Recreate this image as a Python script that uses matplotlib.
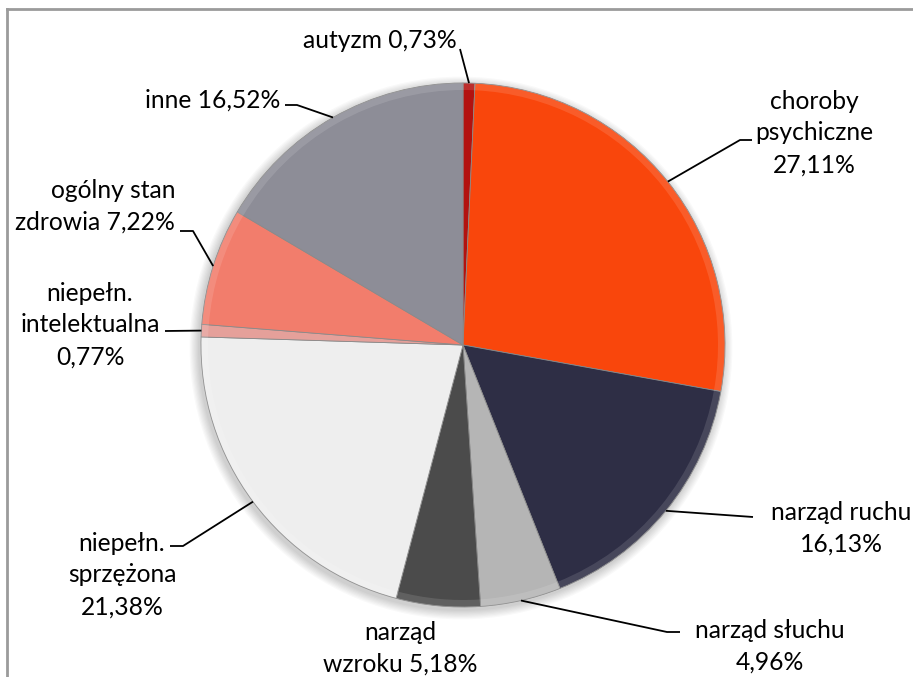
import matplotlib
matplotlib.use('Agg')
import matplotlib.pyplot as plt
from matplotlib.patches import Circle, Wedge
import numpy as np

# data
categories = ['autyzm', 'choroby\npsychiczne', 'narząd ruchu', 'narząd słuchu', 'narząd\nwzroku',
              'niepełn.\nsprzężona', 'niepełn.\nintelektualna', 'ogólny stan\nzdrowia', 'inne']
values = [0.73, 27.11, 16.13, 4.96, 5.18, 21.38, 0.77, 7.22, 16.52]
colors = ['#B3120F', '#F9460C', '#2E2E45', '#B5B5B5', '#4B4B4B',
          '#EEEEEE', '#E5A09A', '#F27D6C', '#8D8D97']

# layout (pixels, y from top)
W, H = 913, 677
cx, cy, R = 463, 345, 262
sep = [' ', '\n', '\n', '\n', ' ', '\n', '\n', ' ', ' ']
label_pos = [(380, 41), (814, 133), (841, 528), (770, 646), (400, 648),
             (122, 575), (90, 325), (175, 206), (213, 100)]
label_ha = ['center'] * 7 + ['right', 'center']
leaders = [[(460, 49)], [(740, 140), (752, 140)], [(753, 517)], [(667, 632), (680, 632)], None,
           [(183, 546), (170, 546)], [(165, 331)], [(193, 231), (180, 231)], [(297, 105), (285, 105)]]

plt.rcParams['font.family'] = ['Lato', 'DejaVu Sans']

fig = plt.figure(figsize=(W / 100, H / 100), dpi=100)
ax = fig.add_axes([0, 0, 1, 1])

# soft shadow behind the pie
for k in range(8):
    ax.add_patch(Circle((cx - 2, H - cy - 3), R + 1 + k * 1.2, color='black',
                        alpha=0.025, lw=0, zorder=0))

wedges, _ = ax.pie(values, colors=colors, startangle=90, counterclock=False,
                   center=(cx, H - cy), radius=R, frame=True,
                   wedgeprops=dict(edgecolor='#8a8a8a', linewidth=0.6))

# bevel-like lighter rim on each slice
for w in wedges:
    ax.add_patch(Wedge(w.center, R, w.theta1, w.theta2, width=7,
                       color='white', alpha=0.12, lw=0, zorder=3))

ax.set_xlim(0, W)
ax.set_ylim(0, H)
ax.set_aspect('equal')
ax.axis('off')

total = sum(values)
cum = 0
for i, v in enumerate(values):
    mid = (cum + v / 2) / total * 2 * np.pi
    cum += v
    px, py = cx + R * np.sin(mid), cy - R * np.cos(mid)
    txt = categories[i] + sep[i] + ('%.2f' % v).replace('.', ',') + '%'
    lx, ly = label_pos[i]
    ax.text(lx, H - ly, txt, ha=label_ha[i], va='center', multialignment=label_ha[i],
            fontsize=17.7, linespacing=1.47, color='black')
    if leaders[i]:
        pts = [(px, py)] + leaders[i]
        ax.plot([p[0] for p in pts], [H - p[1] for p in pts], color='black', lw=1.3,
                solid_capstyle='butt', zorder=5)

# chart area border (partly cut off at right and bottom)
ax.plot([7, W], [H - 9, H - 9], color='#9b9b9b', lw=2)
ax.plot([7, 7], [H - 9, 0], color='#9b9b9b', lw=2)

fig.savefig('out.png', dpi=100)
